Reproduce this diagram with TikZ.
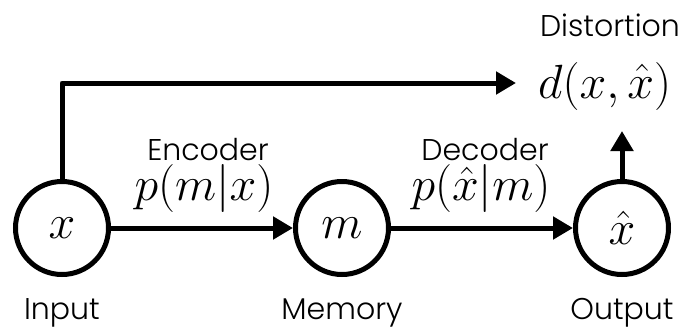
\RequirePackage{fix-cm}
\documentclass[tikz,border=0pt]{standalone}
\usepackage[no-math]{fontspec}
\setmainfont{Poppins}[UprightFont=* Light]
\usetikzlibrary{arrows.meta}
\begin{document}
\begin{tikzpicture}[x=1pt,y=-1pt,
  var/.style={circle,draw,line width=5pt,minimum size=93pt,inner sep=0pt,
    font=\fontsize{48}{52}\selectfont},
  lbl/.style={inner sep=0pt,font=\fontsize{30}{34}\selectfont},
  mth/.style={inner sep=0pt,font=\fontsize{48}{52}\selectfont},
  conn/.style={line width=5pt,-{Triangle[length=20pt,width=22pt]}},
  ]
  \useasboundingbox (0,0) rectangle (683,327);
  % random variables
  \node[var] (x) at (62,228) {$x$};
  \node[var] (m) at (342,228) {$m$};
  \node[var] (xh) at (622,228) {$\hat{x}$};
  % names below the nodes
  \node[lbl,anchor=base] (lin) at (62,319) {Input};
  \node[lbl,anchor=base] (lmem) at (342,319) {Memory};
  \node[lbl,anchor=base] (lout) at (622,319) {Output};
  % channels
  \node[lbl,anchor=base] (enc) at (208,160) {Encoder};
  \node[mth,anchor=base] (penc) at (204,200) {$p(m|x)$};
  \node[lbl,anchor=base] (dec) at (485,160) {Decoder};
  \node[mth,anchor=base] (pdec) at (481,200) {$p(\hat{x}|m)$};
  % distortion
  \node[lbl,anchor=base] (dist) at (610,36) {Distortion};
  \node[mth,anchor=base west] (d) at (538,98) {$d(x,\hat{x})$};
  \coordinate (corner) at (62,83);
  \coordinate (dtip) at (516,83);
  % connectors
  \draw[conn] (x) -- (m);
  \draw[conn] (m) -- (xh);
  \draw[line width=5pt,line join=round] (x.north) -- (corner) -- ([xshift=-10pt]dtip);
  \draw[conn] ([xshift=-30pt]dtip) -- (dtip);
  \draw[conn] (xh.north) -- ++(0,-48);
\end{tikzpicture}
\end{document}
